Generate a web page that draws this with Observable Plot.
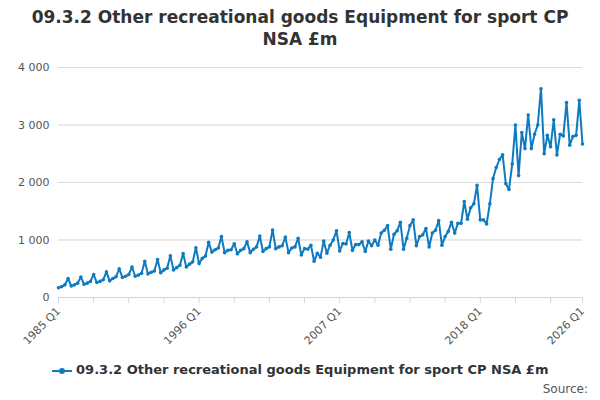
<!DOCTYPE html>
<html><head><meta charset="utf-8">
<script src="https://cdn.jsdelivr.net/npm/d3@7"></script>
<script src="https://cdn.jsdelivr.net/npm/@observablehq/plot@0.6"></script>
<style>
body{margin:0;font-family:"DejaVu Sans",sans-serif;background:#fff;}
#title{height:55px;text-align:center;font-size:17px;font-weight:bold;color:#333;line-height:22px;padding-top:6px;box-sizing:border-box;}
#legend{text-align:center;font-size:13px;font-weight:bold;color:#333;margin-top:2px;height:20px;}
#source{text-align:right;font-size:12px;color:#555;padding-right:12px;}
</style></head><body>
<div id="title">09.3.2 Other recreational goods Equipment for sport CP<br>NSA £m</div>
<div id="chart"></div>
<div id="legend"><svg width="20" height="10" style="vertical-align:middle"><line x1="0" y1="5" x2="20" y2="5" stroke="#0e7ac0" stroke-width="2"/><circle cx="10" cy="5" r="3" fill="#0e7ac0"/></svg> 09.3.2 Other recreational goods Equipment for sport CP NSA £m</div>
<div id="source">Source:</div>
<script>
const years = d3.range(1985, 2027);
const values = [
170,190,220,330, 200,220,250,355, 230,250,280,400, 260,280,310,445,
290,330,360,500, 350,370,400,530, 370,390,420,630, 410,440,460,660,
430,480,510,725, 480,520,560,765, 530,580,620,865, 590,680,720,960,
790,830,860,1060, 780,820,830,935, 760,820,850,970, 780,840,880,1070,
800,850,880,1175, 850,880,900,1050, 780,860,880,1030, 740,850,840,910,
630,770,700,980, 770,910,1000,1160, 810,940,930,1130, 820,920,920,970,
800,980,900,1000, 910,1120,1170,1250, 840,1100,1160,1310, 840,1030,1250,1350,
900,1060,1090,1200, 880,1120,1170,1340, 910,1060,1150,1310, 1120,1290,1290,1670,
1360,1560,1630,1950, 1350,1350,1280,1630, 2070,2260,2400,2480, 1980,1880,2320,3000,
2120,2870,2590,3175, 2590,2840,3000,3630, 2500,2820,2620,3090, 2480,2840,2810,3390,
2650,2800,2820,3430, 2670
];
const data = values.map((v,i)=>({i, v}));
const labelIdx = [0,44,88,132,164];
const qLabel = i => `${1985+Math.floor(i/4)} Q${i%4+1}`;
const fmt = v => d3.format(",")(v).replace(/,/g," ");
const color = "#0e7ac0";
const chart = Plot.plot({
  width:600, height:305, marginTop:12, marginBottom:63, marginLeft:58, marginRight:18,
  style:{fontFamily:"DejaVu Sans, sans-serif", fontSize:"11px", color:"#555"},
  x:{domain:[0,164], ticks:[...d3.range(0,164,11),164], tickFormat:i=>labelIdx.includes(i)?qLabel(i):"", tickRotate:-45, tickSize:6, label:null},
  y:{domain:[0,4000], ticks:[0,1000,2000,3000,4000], tickFormat:fmt, tickSize:0, label:null, grid:true},
  marks:[
    Plot.gridY({stroke:"#ddd", strokeOpacity:1, ticks:[0,1000,2000,3000,4000]}),
    Plot.ruleY([0],{stroke:"#ccd6eb"}),
    Plot.axisX({ticks:[...d3.range(0,164,11),164], tickFormat:i=>labelIdx.includes(i)?qLabel(i):"", tickRotate:-45, stroke:"#ccd6eb", fill:"#555", tickSize:6}),
    Plot.line(data,{x:"i", y:"v", stroke:color, strokeWidth:2}),
    Plot.dot(data,{x:"i", y:"v", fill:color, r:1.8})
  ]
});
document.getElementById("chart").appendChild(chart);
</script></body></html>
